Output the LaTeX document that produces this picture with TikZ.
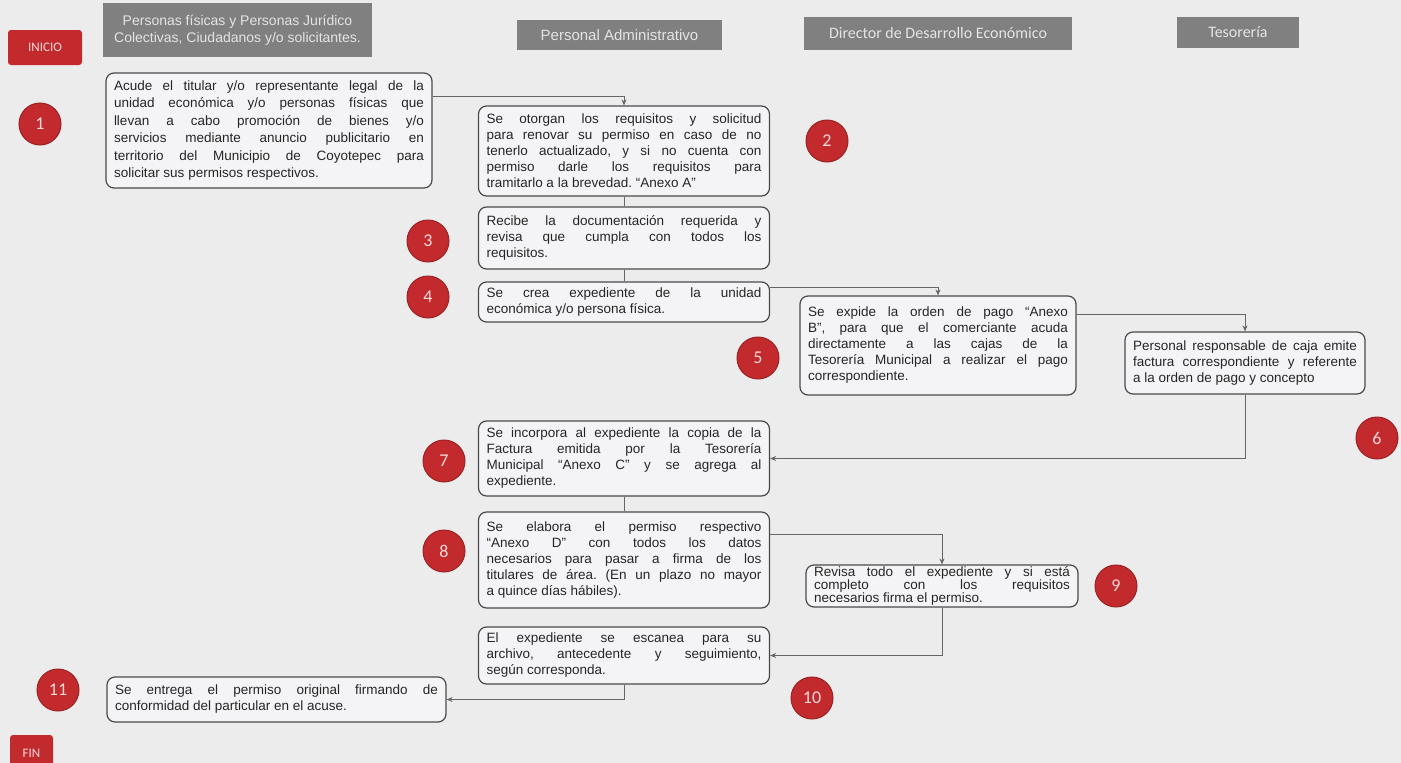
\documentclass[tikz,border=0pt]{standalone}
\usepackage{fontspec}
\setmainfont{Liberation Sans}
\newfontfamily\calib{Carlito}
\usetikzlibrary{arrows.meta}
\definecolor{bgcol}{HTML}{ECECEC}
\definecolor{boxfill}{HTML}{F4F4F6}
\definecolor{boxline}{HTML}{4A4A4A}
\definecolor{txt}{HTML}{262626}
\definecolor{lanegray}{HTML}{808080}
\definecolor{lanetxt}{HTML}{E4E4E4}
\definecolor{numred}{HTML}{C22A2E}
\definecolor{numtxt}{HTML}{F6D9D9}
\definecolor{conncol}{HTML}{666666}
\tolerance=10000
\hyphenpenalty=10000
\frenchspacing
\begin{document}
\begin{tikzpicture}[x=1pt,y=-1pt,
  stepbox/.style={draw=boxline,line width=1.2pt,rounded corners=8pt,fill=boxfill,
    inner xsep=8pt,inner ysep=3pt,align=justify,text=txt,
    font=\fontsize{13.5}{16}\selectfont},
  lane/.style={fill=lanegray,text=lanetxt,inner sep=0pt,align=center},
  num/.style={circle,fill=numred,draw=numred!80!black,line width=1pt,minimum size=42pt,
    inner sep=0pt,text=numtxt,font=\calib\fontsize{18}{18}\selectfont},
  endbox/.style={fill=numred,rounded corners=3pt,text=numtxt,inner sep=0pt,
    font=\calib\fontsize{13}{13}\selectfont},
  conn/.style={draw=conncol,line width=0.8pt,-{Stealth[length=6pt,width=5pt]}},
  plain/.style={draw=conncol,line width=0.8pt}]
\useasboundingbox[fill=bgcol] (0,0) rectangle (1401,763);
% lanes
\node[lane,minimum width=269pt,minimum height=54pt,font=\fontsize{14}{17}\selectfont] (h1) at (237.5,30)
  {Personas físicas y Personas Jurídico\\Colectivas, Ciudadanos y/o solicitantes.};
\node[lane,minimum width=205pt,minimum height=30pt,font=\fontsize{15}{15}\selectfont] (h2) at (619.5,35) {Personal Administrativo};
\node[lane,minimum width=268pt,minimum height=33pt,font=\calib\fontsize{16}{16}\selectfont] (h3) at (938,33.5) {Director de Desarrollo Económico};
\node[lane,minimum width=122pt,minimum height=31pt,font=\calib\fontsize{16}{16}\selectfont] (h4) at (1238,32.5) {Tesorería};
\node[endbox,minimum width=74pt,minimum height=35pt] (ini) at (45,47.5) {INICIO};
\node[endbox,minimum width=43pt,minimum height=36pt] (fin) at (31.5,753) {FIN};
% steps
\node[stepbox,text width=310pt,minimum height=115pt,font=\fontsize{13.5}{17.5}\selectfont] (b1) at (269,130.5)
  {Acude el titular y/o representante legal de la\linebreak unidad económica y/o personas físicas que\linebreak llevan a cabo promoción de bienes y/o\linebreak servicios mediante anuncio publicitario en\linebreak territorio del Municipio de Coyotepec para\linebreak solicitar sus permisos respectivos.};
\node[stepbox,text width=275pt,minimum height=90pt] (b2) at (624,151)
  {Se otorgan los requisitos y solicitud\linebreak para renovar su permiso en caso de no\linebreak tenerlo actualizado, y si no cuenta con\linebreak permiso darle los requisitos para\linebreak tramitarlo a la brevedad. “Anexo A”};
\node[stepbox,text width=275pt,minimum height=62pt] (b3) at (624,238)
  {Recibe la documentación requerida y\linebreak revisa que cumpla con todos los\linebreak requisitos.};
\node[stepbox,text width=275pt,minimum height=40pt] (b4) at (624,302)
  {Se crea expediente de la unidad\linebreak económica y/o persona física.};
\node[stepbox,text width=260pt,minimum height=99pt] (b5) at (938,345.5)
  {Se expide la orden de pago “Anexo\linebreak B”, para que el comerciante acuda\linebreak directamente a las cajas de la\linebreak Tesorería Municipal a realizar el pago\linebreak correspondiente.};
\node[stepbox,text width=224pt,minimum height=62pt] (b6) at (1245,363)
  {Personal responsable de caja emite\linebreak factura correspondiente y referente\linebreak a la orden de pago y concepto};
\node[stepbox,text width=275pt,minimum height=75pt] (b7) at (624,458.5)
  {Se incorpora al expediente la copia de la\linebreak Factura emitida por la Tesorería\linebreak Municipal “Anexo C” y se agrega al\linebreak expediente.};
\node[stepbox,text width=275pt,minimum height=96pt] (b8) at (624,560)
  {Se elabora el permiso respectivo\linebreak “Anexo D” con todos los datos\linebreak necesarios para pasar a firma de los\linebreak titulares de área. (En un plazo no mayor\linebreak a quince días hábiles).};
\node[stepbox,text width=256pt,minimum height=42pt,inner ysep=1pt,font=\fontsize{13.5}{13}\selectfont] (b9) at (942,586)
  {Revisa todo el expediente y si está\linebreak completo con los requisitos\linebreak necesarios firma el permiso.};
\node[stepbox,text width=275pt,minimum height=57pt] (b10) at (624,655.5)
  {El expediente se escanea para su\linebreak archivo, antecedente y seguimiento,\linebreak según corresponda.};
\node[stepbox,text width=323pt,minimum height=45pt] (b11) at (276.5,699.5)
  {Se entrega el permiso original firmando de\linebreak conformidad del particular en el acuse.};
% numbers
\node[num] (n1) at (40,124) {1};
\node[num] (n2) at (827,141) {2};
\node[num] (n3) at (428,241) {3};
\node[num] (n4) at (428,297) {4};
\node[num] (n5) at (758,358) {5};
\node[num] (n6) at (1377,438) {6};
\node[num] (n7) at (444,461) {7};
\node[num] (n8) at (444,551) {8};
\node[num] (n9) at (1116,586) {9};
\node[num] (n10) at (812,698) {10};
\node[num] (n11) at (58,690) {11};
% flow
\draw[conn] ([yshift=34pt]b1.east) -| (b2.north);
\draw[plain] (b2) -- (b3);
\draw[plain] (b3) -- (b4);
\draw[conn] ([yshift=15pt]b4.east) -| (b5.north);
\draw[conn] ([yshift=31pt]b5.east) -| (b6.north);
\draw[conn] (b6.south) |- (b7.east);
\draw[plain] (b7) -- (b8);
\draw[conn] ([yshift=26pt]b8.east) -| (b9.north);
\draw[conn] (b9.south) |- (b10.east);
\draw[conn] (b10.south) |- (b11.east);
\end{tikzpicture}
\end{document}
